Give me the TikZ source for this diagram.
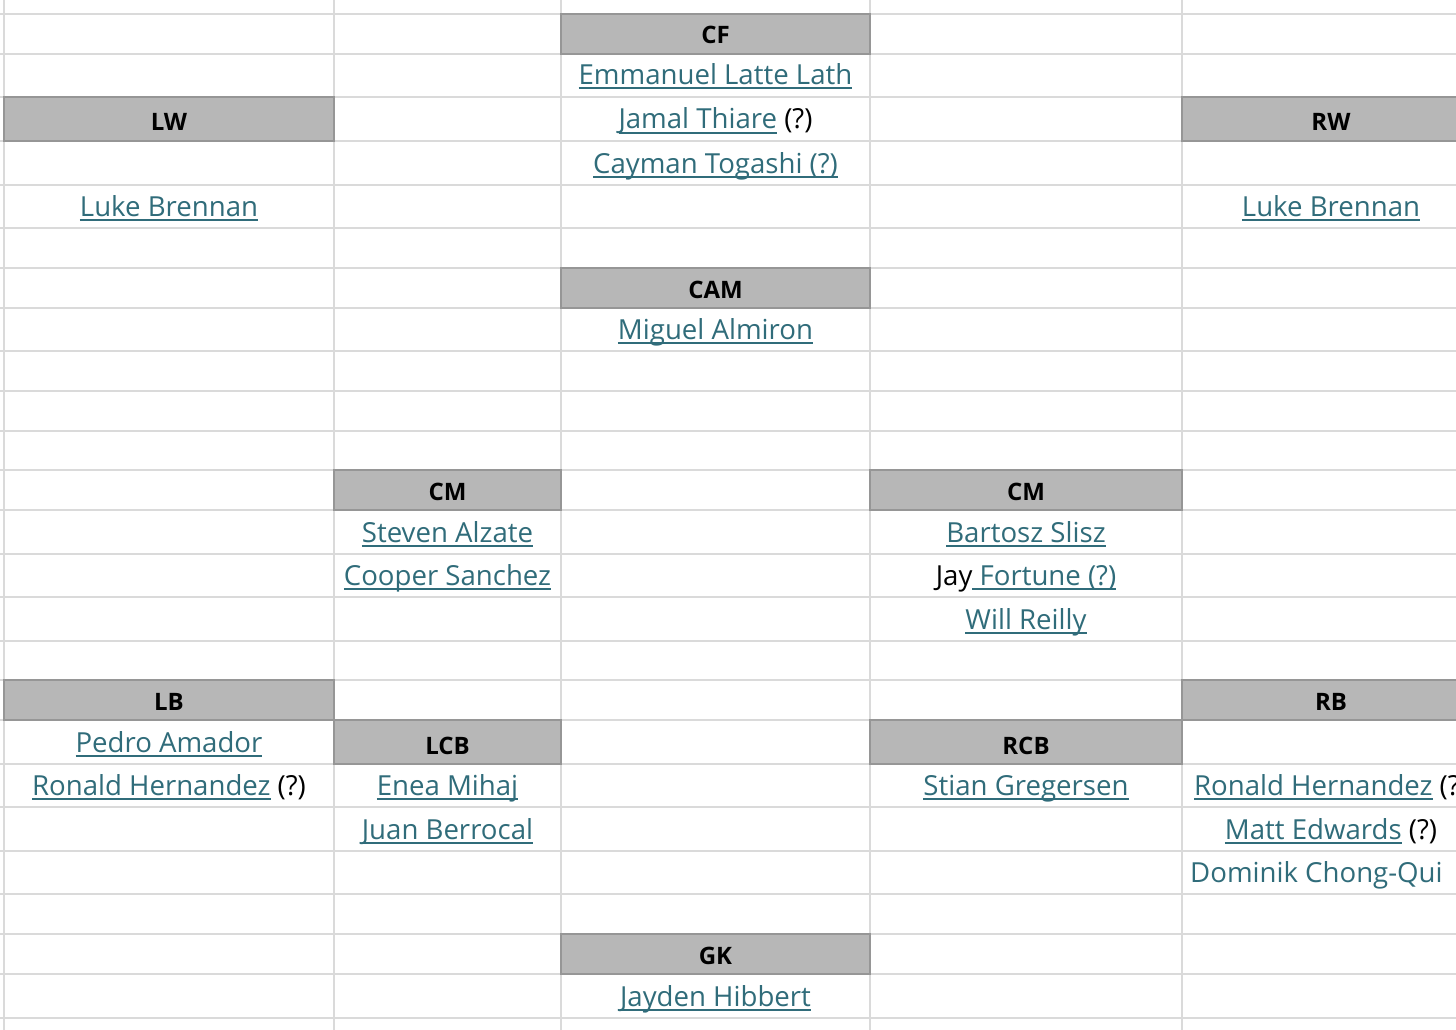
\documentclass[tikz,border=0pt]{standalone}
\usepackage{fontspec}
\setmainfont{Open Sans}
\definecolor{gridc}{RGB}{218,218,218}
\definecolor{hfill}{RGB}{183,183,183}
\definecolor{hdraw}{RGB}{150,150,150}
\definecolor{lkc}{RGB}{48,108,122}
\newcommand\lk[1]{\setbox0\hbox{#1}\leavevmode\rlap{\vrule height -2.5pt depth 4.5pt width \wd0}\box0}
\tikzset{
  gridline/.style={draw=gridc, line width=1.6pt},
  hdr/.style={draw=hdraw, fill=hfill, line width=1.4pt},
  hlabel/.style={anchor=base, inner sep=0pt, font=\fontsize{24}{28}\selectfont\bfseries, text=black},
  pname/.style={anchor=base, inner sep=0pt, font=\fontsize{27.6}{32}\selectfont, text=black},
}
\begin{document}
\begin{tikzpicture}[x=1pt,y=-1pt]
\useasboundingbox (0,0) rectangle (1456,1030);
\clip (0,0) rectangle (1456,1030);
\fill[white] (0,0) rectangle (1456,1030);
% grid
\foreach \yy in {14,54,97,141,185,228,268,308,351,391,431,470,510,554,597,641,680,720,764,807,851,894,934,974,1018}
  \draw[gridline] (0,\yy) -- (1456,\yy);
\foreach \xx in {4,334,561,870,1182}
  \draw[gridline] (\xx,0) -- (\xx,1030);
% headers
\path[hdr] (561,14) rectangle (870,54);
\path[hdr] (4,97) rectangle (334,141);
\path[hdr] (1182,97) rectangle (1470,141);
\path[hdr] (561,268) rectangle (870,308);
\path[hdr] (334,470) rectangle (561,510);
\path[hdr] (870,470) rectangle (1182,510);
\path[hdr] (4,680) rectangle (334,720);
\path[hdr] (1182,680) rectangle (1470,720);
\path[hdr] (334,720) rectangle (561,764);
\path[hdr] (870,720) rectangle (1182,764);
\path[hdr] (561,934) rectangle (870,974);
% header labels
\node[hlabel] (hcf)  at (715.5,44) {CF};
\node[hlabel] (hlw)  at (169,131) {LW};
\node[hlabel] (hrw)  at (1331,131) {RW};
\node[hlabel] (hcam) at (715.5,298) {CAM};
\node[hlabel] (hcml) at (447.5,500) {CM};
\node[hlabel] (hcmr) at (1026,500) {CM};
\node[hlabel] (hlb)  at (169,710) {LB};
\node[hlabel] (hrb)  at (1331,710) {RB};
\node[hlabel] (hlcb) at (447.5,754) {LCB};
\node[hlabel] (hrcb) at (1026,754) {RCB};
\node[hlabel] (hgk)  at (715.5,964) {GK};
% names
\node[pname] (n1) at (715.5,85) {\color{lkc}\lk{Emmanuel Latte Lath}};
\node[pname] (n2) at (715.5,129) {{\color{lkc}\lk{Jamal Thiare}} (?)};
\node[pname] (n3) at (715.5,173) {\color{lkc}\lk{Cayman Togashi (?)}};
\node[pname] (n4) at (169,216) {\color{lkc}\lk{Luke Brennan}};
\node[pname] (n5) at (1331,216) {\color{lkc}\lk{Luke Brennan}};
\node[pname] (n6) at (715.5,339) {\color{lkc}\lk{Miguel Almiron}};
\node[pname] (n7) at (447.5,542) {\color{lkc}\lk{Steven Alzate}};
\node[pname] (n8) at (447.5,585) {\color{lkc}\lk{Cooper Sanchez}};
\node[pname] (n9) at (1026,542) {\color{lkc}\lk{Bartosz Slisz}};
\node[pname] (n10) at (1026,585) {Jay{\color{lkc}\lk{ Fortune (?)}}};
\node[pname] (n11) at (1026,629) {\color{lkc}\lk{Will Reilly}};
\node[pname] (n12) at (169,752) {\color{lkc}\lk{Pedro Amador}};
\node[pname] (n13) at (169,795) {{\color{lkc}\lk{Ronald Hernandez}} (?)};
\node[pname] (n14) at (447.5,795) {\color{lkc}\lk{Enea Mihaj}};
\node[pname] (n15) at (447.5,839) {\color{lkc}\lk{Juan Berrocal}};
\node[pname] (n16) at (1026,795) {\color{lkc}\lk{Stian Gregersen}};
\node[pname] (n17) at (1331,795) {{\color{lkc}\lk{Ronald Hernandez}} (?)};
\node[pname] (n18) at (1331,839) {{\color{lkc}\lk{Matt Edwards}} (?)};
\node[pname, anchor=base west, text=lkc] (n19) at (1190,882) {Dominik Chong-Qui};
\node[pname] (n20) at (715.5,1006) {\color{lkc}\lk{Jayden Hibbert}};
\end{tikzpicture}
\end{document}
